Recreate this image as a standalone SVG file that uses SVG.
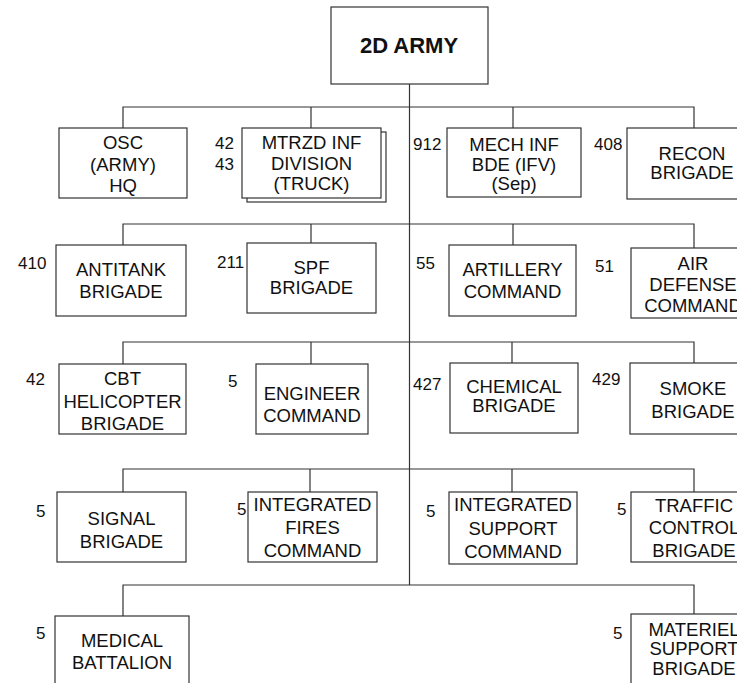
<svg xmlns="http://www.w3.org/2000/svg" width="737" height="683" viewBox="0 0 737 683">
<style>
.box{fill:#fff;stroke:#333;stroke-width:1.2}
.t{font-family:"Liberation Sans",Arial,sans-serif;font-size:18.5px;fill:#111;text-anchor:middle}
.n{font-family:"Liberation Sans",Arial,sans-serif;font-size:17px;fill:#111}
.c{fill:none;stroke:#333;stroke-width:1.2}
</style>
<rect width="737" height="683" fill="#fff"/>
<g id="connectors" class="c">
<path d="M409.5 84V585"/>
<path d="M123 128V107H694V128M311 107V128M513 107V128"/>
<path d="M123 245V224H694V248M311 224V243M513 224V245"/>
<path d="M123 364V342H694V363M311 342V364M512 342V363"/>
<path d="M123 492V469H694V492M310 469V492M512 469V492"/>
<path d="M123 616V585H694V614"/>
</g>
<g id="army">
<rect class="box" x="331" y="7" width="157" height="77"/>
<text class="t" x="409" y="53" style="font-weight:bold;font-size:22px">2D ARMY</text>
</g>
<g id="osc">
<rect class="box" x="59" y="128" width="128" height="70"/>
<text class="t" x="123" y="149">OSC</text><text class="t" x="123" y="171">(ARMY)</text><text class="t" x="123" y="192">HQ</text>
</g>
<g id="mtrzd">
<rect class="box" x="247" y="132" width="139" height="70"/>
<rect class="box" x="242" y="128" width="139" height="70"/>
<text class="t" x="311.5" y="149">MTRZD INF</text><text class="t" x="311.5" y="170">DIVISION</text><text class="t" x="311.5" y="190">(TRUCK)</text>
<text class="n" x="215" y="149">42</text><text class="n" x="215" y="170">43</text>
</g>
<g id="mech">
<rect class="box" x="447" y="128" width="134" height="69"/>
<text class="t" x="514" y="151">MECH INF</text><text class="t" x="514" y="171">BDE (IFV)</text><text class="t" x="514" y="190">(Sep)</text>
<text class="n" x="413" y="150">912</text>
</g>
<g id="recon">
<rect class="box" x="627" y="128" width="130" height="71"/>
<text class="t" x="692" y="160">RECON</text><text class="t" x="692" y="179">BRIGADE</text>
<text class="n" x="594" y="150">408</text>
</g>
<g id="antitank">
<rect class="box" x="56" y="245" width="130" height="71"/>
<text class="t" x="121" y="276">ANTITANK</text><text class="t" x="121" y="298">BRIGADE</text>
<text class="n" x="18" y="269">410</text>
</g>
<g id="spf">
<rect class="box" x="247" y="243" width="129" height="70"/>
<text class="t" x="311.5" y="274">SPF</text><text class="t" x="311.5" y="294">BRIGADE</text>
<text class="n" x="217" y="268">211</text>
</g>
<g id="artillery">
<rect class="box" x="449" y="245" width="127" height="71"/>
<text class="t" x="512.5" y="276">ARTILLERY</text><text class="t" x="512.5" y="298">COMMAND</text>
<text class="n" x="416" y="269">55</text>
</g>
<g id="airdefense">
<rect class="box" x="631" y="248" width="126" height="70"/>
<text class="t" x="693" y="270">AIR</text><text class="t" x="693" y="291">DEFENSE</text><text class="t" x="693" y="312">COMMAND</text>
<text class="n" x="595" y="272">51</text>
</g>
<g id="helicopter">
<rect class="box" x="59" y="364" width="127" height="70"/>
<text class="t" x="122.5" y="385">CBT</text><text class="t" x="122.5" y="408">HELICOPTER</text><text class="t" x="122.5" y="430">BRIGADE</text>
<text class="n" x="26" y="385">42</text>
</g>
<g id="engineer">
<rect class="box" x="256" y="364" width="112" height="70"/>
<text class="t" x="312" y="400">ENGINEER</text><text class="t" x="312" y="422">COMMAND</text>
<text class="n" x="228" y="387">5</text>
</g>
<g id="chemical">
<rect class="box" x="450" y="363" width="128" height="70"/>
<text class="t" x="514" y="393">CHEMICAL</text><text class="t" x="514" y="412">BRIGADE</text>
<text class="n" x="413" y="390">427</text>
</g>
<g id="smoke">
<rect class="box" x="630" y="363" width="127" height="71"/>
<text class="t" x="693" y="395">SMOKE</text><text class="t" x="693" y="418">BRIGADE</text>
<text class="n" x="592" y="385">429</text>
</g>
<g id="signal">
<rect class="box" x="57" y="492" width="129" height="70"/>
<text class="t" x="121.5" y="525">SIGNAL</text><text class="t" x="121.5" y="548">BRIGADE</text>
<text class="n" x="36" y="517">5</text>
</g>
<g id="fires">
<rect class="box" x="248" y="492" width="129" height="70"/>
<text class="t" x="312.5" y="511">INTEGRATED</text><text class="t" x="312.5" y="534">FIRES</text><text class="t" x="312.5" y="557">COMMAND</text>
<text class="n" x="237" y="515">5</text>
</g>
<g id="support">
<rect class="box" x="449" y="492" width="128" height="72"/>
<text class="t" x="513" y="511">INTEGRATED</text><text class="t" x="513" y="535">SUPPORT</text><text class="t" x="513" y="558">COMMAND</text>
<text class="n" x="426" y="517">5</text>
</g>
<g id="traffic">
<rect class="box" x="631" y="492" width="126" height="70"/>
<text class="t" x="694" y="512">TRAFFIC</text><text class="t" x="694" y="534">CONTROL</text><text class="t" x="694" y="557">BRIGADE</text>
<text class="n" x="617" y="515">5</text>
</g>
<g id="medical">
<rect class="box" x="55" y="616" width="134" height="80"/>
<text class="t" x="122" y="647">MEDICAL</text><text class="t" x="122" y="669">BATTALION</text>
<text class="n" x="36" y="639">5</text>
</g>
<g id="materiel">
<rect class="box" x="631" y="614" width="126" height="80"/>
<text class="t" x="694" y="636">MATERIEL</text><text class="t" x="694" y="655">SUPPORT</text><text class="t" x="694" y="675">BRIGADE</text>
<text class="n" x="613" y="639">5</text>
</g>
</svg>
